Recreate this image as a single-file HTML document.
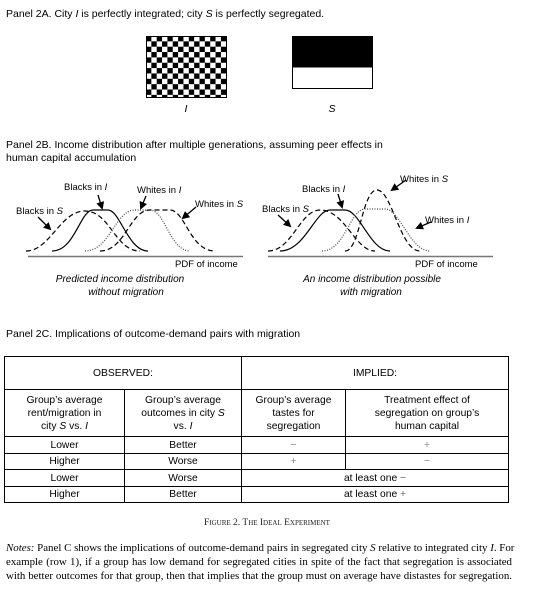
<!DOCTYPE html>
<html><head><meta charset="utf-8"><style>
body{margin:0;background:#fff;width:534px;height:594px;overflow:hidden;position:relative;font-family:"Liberation Sans",Arial,sans-serif;color:#000}
.t{position:absolute;font-size:10.5px;white-space:nowrap}
table{position:absolute;left:4px;top:356px;width:505px;border-collapse:collapse;font-size:10.3px}
td{border:1px solid #000;text-align:center;padding:0;line-height:13px}
.n{position:absolute;left:6px;width:506px;font-family:"Liberation Serif",serif;font-size:10.9px;line-height:13.8px;text-align:justify;text-align-last:justify;white-space:nowrap}
</style></head><body>
<div class="t" style="left:6px;top:8px">Panel 2A. City <i>I</i> is perfectly integrated; city <i>S</i> is perfectly segregated.</div>
<svg style="position:absolute;left:0;top:0" width="534" height="340">
<defs>
<pattern id="ck" width="10.7" height="10.7" patternUnits="userSpaceOnUse" x="146" y="36">
<rect width="5.35" height="5.35" fill="#000"/><rect x="5.35" y="5.35" width="5.35" height="5.35" fill="#000"/></pattern>
<marker id="ar" markerWidth="8" markerHeight="8" refX="6" refY="4" orient="auto" markerUnits="userSpaceOnUse"><path d="M0,0 L8,4 L0,8z" fill="#000"/></marker>
</defs>
<rect x="146.5" y="36.5" width="80" height="61" fill="url(#ck)" stroke="#000"/>
<rect x="292.5" y="36.5" width="80" height="52" fill="#fff" stroke="#000"/>
<rect x="292.5" y="36.5" width="80" height="31" fill="#000"/>
<text x="186" y="112" font-size="10.5" font-style="italic" text-anchor="middle" font-family="Liberation Sans">I</text>
<text x="332" y="112" font-size="10.5" font-style="italic" text-anchor="middle" font-family="Liberation Sans">S</text>
<g fill="none" stroke="#000" stroke-width="1.2">
<line x1="28" y1="256.5" x2="243" y2="256.5" stroke="#777" stroke-width="1.5"/>
<line x1="268" y1="256.5" x2="493" y2="256.5" stroke="#777" stroke-width="1.5"/>
<path d="M26,251 C50,251 60,211 85,211 C110,211 115,251 140,251" stroke-dasharray="5,3"/>
<path d="M52,251 C75,251 80,210 93,210 L108,210 C120,210 128,251 148,251"/>
<path d="M85,251 C110,251 115,210 135,210 L150,210 C165,210 170,251 190,251" stroke-dasharray="1,1.5" stroke="#444"/>
<path d="M100,251 C125,251 130,210 150,210 L170,210 C185,210 190,251 215,251" stroke-dasharray="5,3"/>
<path d="M268,251 C292,251 300,210 320,210 C345,210 355,251 375,251" stroke-dasharray="5,3"/>
<path d="M280,251 C305,251 315,210 330,210 L345,210 C360,210 370,251 390,251"/>
<path d="M345,251 C360,251 362,190 377,190 C392,190 400,251 420,251" stroke-dasharray="5,3"/>
<path d="M322,251 C345,251 350,209 365,209 L385,209 C400,209 410,251 430,251" stroke-dasharray="1,1.5" stroke="#444"/>
<g stroke-width="1.3" marker-end="url(#ar)">
<line x1="38" y1="217" x2="50" y2="229"/>
<line x1="98" y1="195" x2="102" y2="208"/>
<line x1="146" y1="196" x2="141" y2="208"/>
<line x1="196" y1="207" x2="183" y2="218"/>
<line x1="278" y1="215" x2="290" y2="226"/>
<line x1="338" y1="194" x2="342" y2="207"/>
<line x1="406" y1="180" x2="392" y2="190"/>
<line x1="431" y1="222" x2="417" y2="228"/>
</g></g>
<g font-size="9.5" font-family="Liberation Sans">
<text x="64" y="190">Blacks in <tspan font-style="italic">I</tspan></text>
<text x="137" y="193">Whites in <tspan font-style="italic">I</tspan></text>
<text x="16" y="214">Blacks in <tspan font-style="italic">S</tspan></text>
<text x="195" y="207">Whites in <tspan font-style="italic">S</tspan></text>
<text x="175" y="267">PDF of income</text>
<text x="302" y="192">Blacks in <tspan font-style="italic">I</tspan></text>
<text x="400" y="182">Whites in <tspan font-style="italic">S</tspan></text>
<text x="262" y="212">Blacks in <tspan font-style="italic">S</tspan></text>
<text x="425" y="223">Whites in <tspan font-style="italic">I</tspan></text>
<text x="415" y="267">PDF of income</text>
<g font-style="italic" text-anchor="middle" font-size="10">
<text x="120" y="282">Predicted income distribution</text>
<text x="126" y="295">without migration</text>
<text x="372" y="282">An income distribution possible</text>
<text x="371" y="295">with migration</text></g></g>
</svg>
<div class="t" style="left:6px;top:139px;line-height:13px">Panel 2B. Income distribution after multiple generations, assuming peer effects in<br>human capital accumulation</div>
<div class="t" style="left:6px;top:328px">Panel 2C. Implications of outcome-demand pairs with migration</div>
<table>
<tr style="height:33px"><td colspan="2">OBSERVED:</td><td colspan="2">IMPLIED:</td></tr>
<tr style="height:47px"><td style="width:119px">Group’s average<br>rent/migration in<br>city <i>S</i> vs. <i>I</i></td><td style="width:116px">Group’s average<br>outcomes in city <i>S</i><br>vs. <i>I</i></td><td style="width:103px">Group’s average<br>tastes for<br>segregation</td><td>Treatment effect of<br>segregation on group’s<br>human capital</td></tr>
<tr style="height:17px"><td>Lower</td><td>Better</td><td style="color:#888">−</td><td style="color:#888">+</td></tr>
<tr style="height:16px"><td>Higher</td><td>Worse</td><td style="color:#888">+</td><td style="color:#888">−</td></tr>
<tr style="height:17px"><td>Lower</td><td>Worse</td><td colspan="2">at least one <span style="color:#666">−</span></td></tr>
<tr style="height:16px"><td>Higher</td><td>Better</td><td colspan="2">at least one <span style="color:#666">+</span></td></tr>
</table>
<div style="position:absolute;left:0;width:534px;top:518px;text-align:center;font-family:'Liberation Serif',serif;font-size:9.5px;font-variant:small-caps;color:#222">Figure 2. The Ideal Experiment</div>
<div class="n" style="top:542px"><i>Notes:</i> Panel C shows the implications of outcome-demand pairs in segregated city <i>S</i> relative to integrated city <i>I</i>. For</div>
<div class="n" style="top:556px">example (row 1), if a group has low demand for segregated cities in spite of the fact that segregation is associated</div>
<div class="n" style="top:570px">with better outcomes for that group, then that implies that the group must on average have distastes for segregation.</div>
</body></html>
